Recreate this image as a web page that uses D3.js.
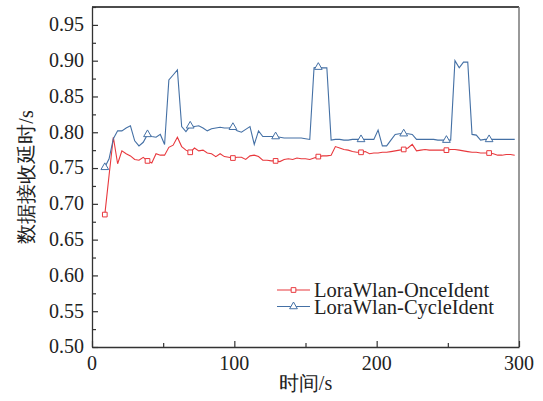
<!DOCTYPE html>
<html>
<head>
<meta charset="utf-8">
<script src="https://cdn.jsdelivr.net/npm/d3@7"></script>
<style>
  body { margin: 0; background: #fff; }
  svg { display: block; }
  .lbl { font-family: "Liberation Serif", "Times New Roman", serif; font-size: 20px; fill: #222; }
</style>
</head>
<body>
<script>
// sample times (s), one reading every 3 s
var times = d3.range(9, 298, 3);

var onceIdent = [
  0.685,0.740,0.793,0.756,0.774,0.770,0.767,0.762,0.761,0.765,
  0.760,0.757,0.770,0.768,0.768,0.779,0.782,0.793,0.780,0.775,
  0.772,0.778,0.774,0.775,0.771,0.770,0.766,0.770,0.766,0.765,
  0.764,0.765,0.765,0.762,0.767,0.768,0.766,0.761,0.761,0.760,
  0.760,0.759,0.762,0.763,0.762,0.764,0.763,0.763,0.762,0.764,
  0.766,0.767,0.767,0.768,0.780,0.778,0.776,0.775,0.773,0.772,
  0.772,0.773,0.770,0.771,0.771,0.772,0.772,0.773,0.774,0.775,
  0.776,0.778,0.783,0.774,0.775,0.776,0.775,0.775,0.775,0.775,
  0.775,0.776,0.776,0.775,0.774,0.773,0.772,0.772,0.771,0.771,
  0.771,0.770,0.768,0.768,0.769,0.769,0.768
];

var cycleIdent = [
  0.751,0.763,0.791,0.802,0.802,0.806,0.809,0.788,0.781,0.786,
  0.797,0.794,0.793,0.797,0.783,0.873,0.880,0.887,0.808,0.801,
  0.809,0.808,0.809,0.806,0.802,0.805,0.806,0.807,0.806,0.806,
  0.807,0.802,0.800,0.804,0.808,0.783,0.802,0.794,0.794,0.794,
  0.794,0.793,0.792,0.792,0.792,0.792,0.792,0.791,0.790,0.890,
  0.891,0.890,0.890,0.789,0.790,0.790,0.789,0.789,0.790,0.790,
  0.790,0.790,0.790,0.790,0.803,0.781,0.781,0.789,0.797,0.798,
  0.798,0.798,0.797,0.790,0.790,0.790,0.790,0.790,0.789,0.789,
  0.789,0.789,0.900,0.890,0.898,0.898,0.797,0.796,0.789,0.790,
  0.790,0.790,0.790,0.790,0.790,0.790,0.790
];

var seriesNames = ["LoraWlan-OnceIdent", "LoraWlan-CycleIdent"];
var xTicks = [0, 100, 200, 300];
var xMinorTicks = [50, 150, 250];
var yTicks = [0.50, 0.55, 0.60, 0.65, 0.70, 0.75, 0.80, 0.85, 0.90, 0.95];
var yMinorTicks = [0.525, 0.575, 0.625, 0.675, 0.725, 0.775, 0.825, 0.875, 0.925, 0.975];

var width = 543, height = 401;
var margin = {left: 92, top: 7, right: 24, bottom: 54};
var w = width - margin.left - margin.right,
    h = height - margin.top - margin.bottom;

var svg = d3.select("body").append("svg")
    .attr("width", width)
    .attr("height", height);

var g = svg.append("g")
    .attr("transform", "translate(" + margin.left + "," + margin.top + ")");

var x = d3.scaleLinear().domain([0, 300]).range([0, w]);
var y = d3.scaleLinear().domain([0.5, 0.975]).range([h, 0]);

// frame: top and right
g.append("line").attr("x1", 0).attr("x2", w).attr("y1", 0).attr("y2", 0)
  .attr("stroke", "#111").attr("stroke-width", 1.5);
g.append("line").attr("x1", w).attr("x2", w).attr("y1", 0).attr("y2", h)
  .attr("stroke", "#777").attr("stroke-width", 1.5);

// axes, ticks pointing inward (labels drawn separately below)
g.append("g")
  .attr("transform", "translate(0," + h + ")")
  .call(d3.axisBottom(x).tickValues(xTicks).tickFormat("")
    .tickSizeInner(-6).tickSizeOuter(0));
g.append("g")
  .attr("transform", "translate(0," + h + ")")
  .call(d3.axisBottom(x).tickValues(xMinorTicks).tickFormat("")
    .tickSizeInner(-4).tickSizeOuter(0))
  .select(".domain").remove();

g.append("g")
  .call(d3.axisLeft(y).tickValues(yTicks).tickFormat("")
    .tickSizeInner(-6).tickSizeOuter(0));
g.append("g")
  .call(d3.axisLeft(y).tickValues(yMinorTicks).tickFormat("")
    .tickSizeInner(-4).tickSizeOuter(0))
  .select(".domain").remove();

g.selectAll(".domain").attr("stroke", "#333").attr("stroke-width", 1.3);
g.selectAll(".tick line").attr("stroke", "#333").attr("stroke-width", 1.2);

// tick labels
g.selectAll(".xlbl")
  .data(xTicks)
  .enter()
  .append("text")
  .attr("class", "lbl xlbl")
  .attr("x", function(d) { return x(d); })
  .attr("y", h + 9)
  .attr("dy", "0.71em")
  .attr("text-anchor", "middle")
  .text(d3.format("d"));

g.selectAll(".ylbl")
  .data(yTicks)
  .enter()
  .append("text")
  .attr("class", "lbl ylbl")
  .attr("x", -8)
  .attr("y", function(d) { return y(d); })
  .attr("dy", "0.32em")
  .attr("text-anchor", "end")
  .text(d3.format(".2f"));

// axis titles
svg.append("text")
  .attr("class", "lbl")
  .attr("x", margin.left + w / 2)
  .attr("y", 390)
  .attr("text-anchor", "middle")
  .text("时间/s");

svg.append("text")
  .attr("class", "lbl")
  .attr("transform", "translate(33," + (margin.top + h / 2) + ") rotate(-90)")
  .attr("text-anchor", "middle")
  .text("数据接收延时/s");

// series
var colors = ["#e8383d", "#4470a5"];
var allSeries = [onceIdent, cycleIdent];

var line = d3.line()
  .x(function(d, i) { return x(times[i]); })
  .y(function(d) { return y(d); });

var square = d3.symbol().type(d3.symbolSquare).size(22);
var triangle = d3.symbol().type(d3.symbolTriangle).size(26);
var symbols = [square, triangle];

allSeries.forEach(function(vals, s) {
  g.append("path")
    .datum(vals)
    .attr("fill", "none")
    .attr("stroke", colors[s])
    .attr("stroke-width", 1.1)
    .attr("d", line);

  // a marker every 10th sample
  var marked = vals.map(function(v, i) { return {v: v, i: i}; })
    .filter(function(d) { return d.i % 10 === 0; });

  g.selectAll(".m" + s)
    .data(marked)
    .enter()
    .append("path")
    .attr("class", "m" + s)
    .attr("d", symbols[s])
    .attr("transform", function(d) {
      return "translate(" + x(times[d.i]) + "," + y(d.v) + ")";
    })
    .attr("fill", "#fff")
    .attr("stroke", colors[s])
    .attr("stroke-width", 1);
});

// legend
var legend = svg.append("g").attr("transform", "translate(277,290)");
seriesNames.forEach(function(name, s) {
  var row = legend.append("g").attr("transform", "translate(0," + (s * 16.5) + ")");
  row.append("line")
    .attr("x1", 0).attr("x2", 33).attr("y1", 0).attr("y2", 0)
    .attr("stroke", colors[s]).attr("stroke-width", 1.1);
  row.append("path")
    .attr("d", symbols[s])
    .attr("transform", "translate(16.5,0)")
    .attr("fill", "#fff")
    .attr("stroke", colors[s]);
  row.append("text")
    .attr("class", "lbl")
    .attr("x", 37)
    .attr("y", 0)
    .attr("dy", "0.35em")
    .style("font-size", "20.5px")
    .text(name);
});
</script>
</body>
</html>
